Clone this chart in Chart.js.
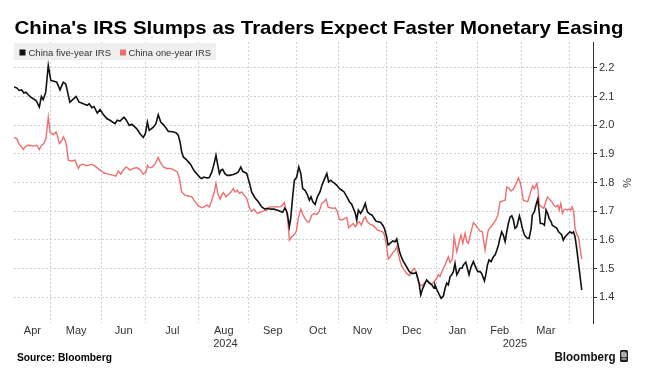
<!DOCTYPE html>
<html>
<head>
<meta charset="utf-8">
<script src="https://cdn.jsdelivr.net/npm/chart.js@4.4.1/dist/chart.umd.min.js"></script>
<style>
  html, body { margin: 0; padding: 0; background: #ffffff; }
  canvas { display: block; }
</style>
</head>
<body>
<canvas id="c" width="656" height="382" style="width:656px;height:382px"></canvas>
<script>
// ---------------- DATA (x = trading days since start of chart) ----------------
const titleText = "China's IRS Slumps as Traders Expect Faster Monetary Easing";
const seriesNames = ['China five-year IRS', 'China one-year IRS'];
const sourceText = 'Source: Bloomberg';

const monthLabels = ['Apr','May','Jun','Jul','Aug','Sep','Oct','Nov','Dec','Jan','Feb','Mar'];
const monthStartDay = [16.0, 38.1, 57.3, 80.4, 102.0, 123.0, 141.0, 162.0, 183.8, 201.6, 220.7, 241.7];
const yearLabels = ['2024', '2025'];
const yearStartDay = [0, 183.8];
const dayAxisMax = 251.7;

const yTicks = [1.4, 1.5, 1.6, 1.7, 1.8, 1.9, 2.0, 2.1, 2.2];
const yMin = 1.31, yMax = 2.29;

const fiveYearDay = [
0.0,1.2,2.3,3.3,4.3,5.2,6.2,7.3,8.4,9.6,
11.0,11.9,12.7,13.8,14.9,16.0,17.4,18.6,20.0,21.4,
22.5,24.3,25.5,27.0,28.3,29.4,30.9,31.9,32.7,33.8,
34.8,36.2,37.4,38.6,40.3,41.7,43.9,44.9,46.1,47.8,
48.7,50.1,51.2,52.6,53.3,54.8,56.2,57.1,58.0,58.8,
60.6,61.7,62.7,63.8,64.9,66.1,67.1,68.1,69.3,70.4,
71.4,72.2,72.9,73.6,74.8,75.8,76.8,77.7,78.7,79.7,
80.9,81.6,82.6,83.8,84.9,86.0,87.0,87.8,88.6,89.3,
90.0,90.7,91.7,92.7,93.9,95.3,96.5,97.5,98.6,99.4,
100.4,101.2,102.0,102.6,103.3,104.8,106.2,107.7,109.1,110.1,
111.6,113.0,114.2,115.7,116.8,117.7,118.3,118.8,119.7,120.3,
121.2,121.9,122.9,123.8,124.7,125.5,126.5,127.5,128.4,129.1,
129.9,130.9,131.9,133.0,133.9,134.9,136.0,136.8,137.7,138.8,
140.3,141.4,142.5,143.5,144.7,145.8,146.8,147.5,148.4,149.0,
149.7,150.7,151.9,152.7,153.6,154.8,155.7,156.5,157.4,158.4,
159.4,160.3,161.0,162.0,162.6,163.5,164.7,165.7,166.4,167.1,
167.8,168.6,169.3,170.0,171.0,171.9,172.9,173.9,174.8,175.3,
176.2,176.8,177.7,178.7,179.4,180.6,181.6,182.6,183.0,183.9,
184.8,185.7,186.7,187.4,188.1,188.8,189.6,190.3,191.0,191.7,
192.5,193.2,193.9,194.7,195.3,196.4,197.1,197.8,198.7,199.7,
200.4,201.6,202.6,203.3,204.5,205.1,205.8,206.5,207.4,208.4,
209.1,209.9,210.6,211.3,212.0,212.7,213.5,214.2,214.9,215.7,
216.4,217.1,217.8,218.6,219.7,220.4,221.0,221.9,222.9,223.9,
224.8,225.3,226.2,227.0,227.7,228.3,228.8,229.7,230.6,231.3,
232.0,232.6,233.5,234.0,234.9,236.0,236.7,237.4,238.1,238.8,
239.6,240.3,241.0,241.7,242.5,243.2,243.9,244.7,245.4,246.1,
246.8];
const fiveYearRate = [
2.133,2.130,2.121,2.123,2.112,2.115,2.106,2.098,2.092,2.086,
2.063,2.100,2.089,2.115,2.208,2.156,2.153,2.150,2.123,2.150,
2.144,2.080,2.089,2.100,2.080,2.077,2.072,2.069,2.075,2.061,
2.065,2.042,2.054,2.040,2.023,2.017,2.005,2.017,2.014,2.028,
2.019,1.999,2.003,1.993,1.988,1.970,1.957,1.970,2.011,1.982,
1.993,2.005,2.036,2.011,2.002,1.990,1.978,1.978,1.976,1.974,
1.965,1.941,1.906,1.889,1.881,1.872,1.863,1.849,1.837,1.828,
1.817,1.814,1.819,1.816,1.817,1.837,1.866,1.895,1.860,1.831,
1.843,1.846,1.831,1.825,1.825,1.828,1.831,1.837,1.854,1.839,
1.835,1.831,1.808,1.791,1.767,1.746,1.733,1.715,1.707,1.710,
1.707,1.707,1.704,1.700,1.696,1.710,1.704,1.692,1.646,1.675,
1.756,1.808,1.819,1.854,1.831,1.779,1.773,1.758,1.738,1.750,
1.733,1.724,1.750,1.767,1.791,1.811,1.831,1.802,1.808,1.800,
1.791,1.779,1.773,1.767,1.750,1.733,1.724,1.710,1.692,1.669,
1.704,1.692,1.710,1.727,1.698,1.689,1.686,1.675,1.665,1.663,
1.661,1.651,1.640,1.611,1.582,1.588,1.596,1.593,1.603,1.576,
1.553,1.536,1.524,1.515,1.501,1.489,1.483,1.483,1.486,1.472,
1.443,1.408,1.431,1.449,1.460,1.449,1.443,1.431,1.443,1.425,
1.410,1.396,1.405,1.431,1.449,1.443,1.472,1.478,1.489,1.518,
1.478,1.489,1.501,1.501,1.512,1.522,1.501,1.478,1.506,1.524,
1.510,1.489,1.489,1.483,1.457,1.478,1.512,1.530,1.524,1.541,
1.547,1.564,1.582,1.607,1.628,1.617,1.594,1.628,1.657,1.680,
1.684,1.669,1.640,1.646,1.683,1.663,1.640,1.617,1.607,1.605,
1.640,1.686,1.698,1.724,1.742,1.698,1.657,1.657,1.651,1.704,
1.692,1.675,1.663,1.651,1.646,1.640,1.628,1.623,1.617,1.599,
1.611,1.617,1.623,1.628,1.623,1.628,1.611,1.564,1.518,1.472,
1.425];

const oneYearDay = [
0.0,1.2,2.3,3.3,4.0,4.8,5.8,7.0,8.4,9.9,
11.0,12.0,13.0,13.9,14.9,15.7,17.1,18.3,18.8,19.7,
20.7,21.4,22.3,22.9,23.6,25.1,26.5,28.0,28.7,30.1,
31.3,32.3,33.8,35.2,37.4,39.1,41.0,43.2,44.3,45.3,
46.4,47.5,48.7,49.7,50.4,51.9,53.3,54.8,56.2,57.4,
58.0,58.8,59.9,61.3,62.7,63.5,64.9,66.4,67.8,69.3,
71.0,71.9,72.9,74.3,75.8,77.3,78.7,80.1,81.6,82.6,
83.8,84.9,86.0,87.0,87.8,88.6,89.6,90.3,91.0,92.2,
93.2,94.2,95.3,96.2,97.1,98.0,99.0,100.0,101.2,101.9,
102.6,103.3,104.3,105.2,105.8,107.0,108.4,109.9,111.3,112.7,
114.2,115.7,116.8,117.5,118.3,119.0,119.7,120.7,121.7,122.7,
123.6,124.7,125.5,126.5,127.5,128.4,129.4,130.4,131.6,132.7,
133.8,134.8,135.7,136.5,137.4,138.6,139.6,140.6,141.4,142.5,
143.2,143.9,144.7,145.5,146.4,147.5,148.4,149.3,150.1,151.0,
151.9,152.7,153.6,154.8,156.0,157.1,158.0,159.1,160.3,161.0,
162.0,162.7,163.5,164.7,165.7,166.4,167.1,167.8,168.6,169.6,
170.7,171.9,172.9,173.9,174.8,175.3,176.5,177.4,178.3,179.4,
180.6,181.6,182.6,183.8,184.5,185.2,186.0,186.7,187.4,188.8,
189.6,190.6,191.3,192.5,193.5,194.3,195.1,196.1,196.8,197.5,
198.7,199.7,200.7,201.6,202.6,203.6,204.8,205.5,206.2,207.4,
208.4,209.4,210.3,211.3,212.5,213.5,214.2,215.2,216.1,217.1,
217.8,218.6,219.3,220.0,220.7,221.4,222.5,223.3,224.0,224.8,
225.5,226.2,227.3,227.8,228.4,229.4,230.3,231.2,231.9,232.7,
233.8,234.7,235.5,236.4,237.0,237.7,238.4,239.1,239.9,240.6,
241.3,242.0,242.6,243.3,243.9,244.7,245.4,246.1,246.8];
const oneYearRate = [
1.957,1.953,1.933,1.924,1.915,1.924,1.929,1.930,1.927,1.930,
1.915,1.930,1.936,1.953,2.028,1.975,1.967,1.976,1.965,1.936,
1.945,1.959,1.947,1.924,1.878,1.875,1.878,1.849,1.860,1.864,
1.858,1.860,1.864,1.857,1.843,1.833,1.829,1.825,1.822,1.840,
1.829,1.843,1.854,1.849,1.843,1.849,1.852,1.845,1.829,1.837,
1.860,1.852,1.852,1.864,1.887,1.872,1.854,1.849,1.849,1.845,
1.837,1.814,1.767,1.756,1.753,1.750,1.733,1.719,1.712,1.715,
1.721,1.715,1.738,1.765,1.797,1.762,1.742,1.756,1.765,1.750,
1.758,1.765,1.779,1.767,1.773,1.762,1.767,1.756,1.744,1.724,
1.707,1.700,1.707,1.698,1.692,1.696,1.700,1.704,1.715,1.715,
1.715,1.715,1.721,1.730,1.704,1.669,1.599,1.611,1.617,1.630,
1.675,1.707,1.689,1.675,1.663,1.663,1.686,1.692,1.689,1.700,
1.727,1.733,1.742,1.715,1.712,1.710,1.712,1.698,1.672,1.669,
1.672,1.675,1.677,1.642,1.649,1.657,1.646,1.657,1.663,1.651,
1.672,1.680,1.663,1.654,1.651,1.642,1.634,1.631,1.628,1.617,
1.576,1.533,1.541,1.556,1.564,1.576,1.550,1.526,1.507,1.495,
1.483,1.475,1.491,1.501,1.489,1.472,1.443,1.440,1.449,1.457,
1.451,1.445,1.454,1.467,1.478,1.472,1.489,1.501,1.512,1.541,
1.521,1.533,1.611,1.559,1.591,1.617,1.588,1.623,1.594,1.588,
1.628,1.660,1.651,1.640,1.631,1.628,1.564,1.605,1.634,1.646,
1.657,1.669,1.686,1.733,1.736,1.738,1.785,1.779,1.770,1.777,
1.788,1.802,1.816,1.802,1.773,1.738,1.735,1.733,1.750,1.773,
1.788,1.779,1.797,1.773,1.721,1.715,1.710,1.733,1.750,1.742,
1.733,1.721,1.715,1.721,1.704,1.727,1.692,1.704,1.707,1.704,
1.707,1.704,1.715,1.698,1.640,1.617,1.611,1.570,1.533];

// ---------------- STYLE ----------------
const BLACK = '#111111';
const RED = '#ef6f6f';
const GRID = '#cfcfcf';
const AXIS_TEXT = '#333333';
const FONT = '"Liberation Sans", Arial, sans-serif';

// derived tick positions
const monthBounds = [0].concat(monthStartDay);
const monthMid = monthLabels.map((_, i) => (monthBounds[i] + monthBounds[i + 1]) / 2);
const yearEnds = yearStartDay.slice(1).concat([dayAxisMax]);
const yearMid = yearLabels.map((_, i) => (yearStartDay[i] + yearEnds[i]) / 2);

function toPoints(xs, ys) {
  const n = Math.min(xs.length, ys.length);
  const out = [];
  for (let i = 0; i < n; i++) out.push({ x: xs[i], y: ys[i] });
  return out;
}

function fitText(c, text, x, y, width, font, color) {
  c.save();
  c.font = font;
  c.fillStyle = color;
  c.textBaseline = 'alphabetic';
  c.textAlign = 'left';
  const w = c.measureText(text).width;
  c.translate(x, y);
  c.scale(width / w, 1);
  c.fillText(text, 0, 0);
  c.restore();
}

const decor = {
  id: 'decor',
  beforeDatasetsDraw(chart) {
    const c = chart.ctx;
    c.save();
    c.fillStyle = '#efefef';
    c.fillRect(14, 43, 202, 17);
    c.fillStyle = BLACK;
    c.fillRect(19.5, 49.5, 6, 6);
    fitText(c, seriesNames[0], 28.5, 56, 82.5, '9.5px ' + FONT, AXIS_TEXT);
    c.fillStyle = RED;
    c.fillRect(120, 49.5, 6, 6);
    fitText(c, seriesNames[1], 128.5, 56, 82.5, '9.5px ' + FONT, AXIS_TEXT);
    c.restore();
  },
  afterDraw(chart) {
    const c = chart.ctx;
    // title
    fitText(c, titleText, 14.5, 34, 609, 'bold 19px ' + FONT, '#000000');
    // percent axis title
    c.save();
    c.translate(626, 183);
    c.rotate(Math.PI / 2);
    c.font = '11px ' + FONT;
    c.fillStyle = AXIS_TEXT;
    c.textAlign = 'center';
    c.textBaseline = 'middle';
    c.fillText('%', 0, 0);
    c.restore();
    // source
    fitText(c, sourceText, 17, 361, 95, 'bold 10px ' + FONT, '#000000');
    // Bloomberg wordmark
    fitText(c, 'Bloomberg', 554.5, 361, 61, 'bold 12px ' + FONT, '#111111');
    c.save();
    c.fillStyle = '#222222';
    c.beginPath();
    if (c.roundRect) c.roundRect(620, 350, 8, 12, 1.5); else c.rect(620, 350, 8, 12);
    c.fill();
    c.fillStyle = '#ffffff';
    c.fillRect(621.5, 352, 1.2, 5);
    c.fillRect(623.4, 351.5, 1.2, 6);
    c.fillRect(625.3, 352.5, 1.2, 4.5);
    c.fillRect(621.5, 358.5, 5, 1);
    c.restore();
  }
};

new Chart(document.getElementById('c').getContext('2d'), {
  type: 'line',
  data: {
    datasets: [
      {
        label: seriesNames[0],
        data: toPoints(fiveYearDay, fiveYearRate),
        borderColor: BLACK,
        borderWidth: 1.6,
        pointRadius: 0,
        tension: 0,
        xAxisID: 'x',
        yAxisID: 'y'
      },
      {
        label: seriesNames[1],
        data: toPoints(oneYearDay, oneYearRate),
        borderColor: RED,
        borderWidth: 1.4,
        pointRadius: 0,
        tension: 0,
        xAxisID: 'x',
        yAxisID: 'y'
      }
    ]
  },
  options: {
    responsive: false,
    animation: false,
    devicePixelRatio: 1,
    layout: { padding: { left: 14, top: 42, right: 0, bottom: 31 } },
    plugins: {
      legend: { display: false },
      title: { display: false },
      tooltip: { enabled: false }
    },
    scales: {
      x: {
        type: 'linear', axis: 'x', position: 'bottom',
        min: 0, max: dayAxisMax,
        afterBuildTicks: s => { s.ticks = monthStartDay.map(v => ({ value: v })); },
        grid: { display: true, drawOnChartArea: true, drawTicks: false, color: GRID, lineWidth: 1 },
        border: { display: false, dash: [2, 2] },
        ticks: { display: false },
        afterFit: s => { s.height = 0; }
      },
      xMonth: {
        type: 'linear', axis: 'x', position: 'bottom',
        min: 0, max: dayAxisMax,
        afterBuildTicks: s => { s.ticks = monthMid.map(v => ({ value: v })); },
        grid: { display: false, drawTicks: false, tickLength: 0 },
        border: { display: false },
        ticks: {
          autoSkip: false, maxRotation: 0, minRotation: 0, padding: 1,
          color: AXIS_TEXT, font: { family: FONT, size: 11 },
          callback: (v, i) => monthLabels[i]
        },
        afterFit: s => { s.height = 14; }
      },
      xYear: {
        type: 'linear', axis: 'x', position: 'bottom',
        min: 0, max: dayAxisMax,
        afterBuildTicks: s => { s.ticks = yearMid.map(v => ({ value: v })); },
        grid: { display: false, drawTicks: false, tickLength: 0 },
        border: { display: false },
        ticks: {
          autoSkip: false, maxRotation: 0, minRotation: 0, padding: 0,
          color: AXIS_TEXT, font: { family: FONT, size: 11 },
          callback: (v, i) => yearLabels[i]
        },
        afterFit: s => { s.height = 14; }
      },
      y: {
        type: 'linear', position: 'right',
        min: yMin, max: yMax,
        afterBuildTicks: s => { s.ticks = yTicks.map(v => ({ value: v })); },
        grid: {
          display: true, drawOnChartArea: true, drawTicks: true,
          color: GRID, lineWidth: 1, tickLength: 4, tickColor: '#333333',
          tickBorderDash: [], tickWidth: 1
        },
        border: { display: true, color: '#333333', width: 1, dash: [2, 2] },
        ticks: {
          padding: 2, color: AXIS_TEXT, font: { family: FONT, size: 11 },
          callback: v => Number(v).toFixed(1)
        },
        afterFit: s => { s.width = 63; }
      }
    }
  },
  plugins: [decor]
});
</script>
</body>
</html>
